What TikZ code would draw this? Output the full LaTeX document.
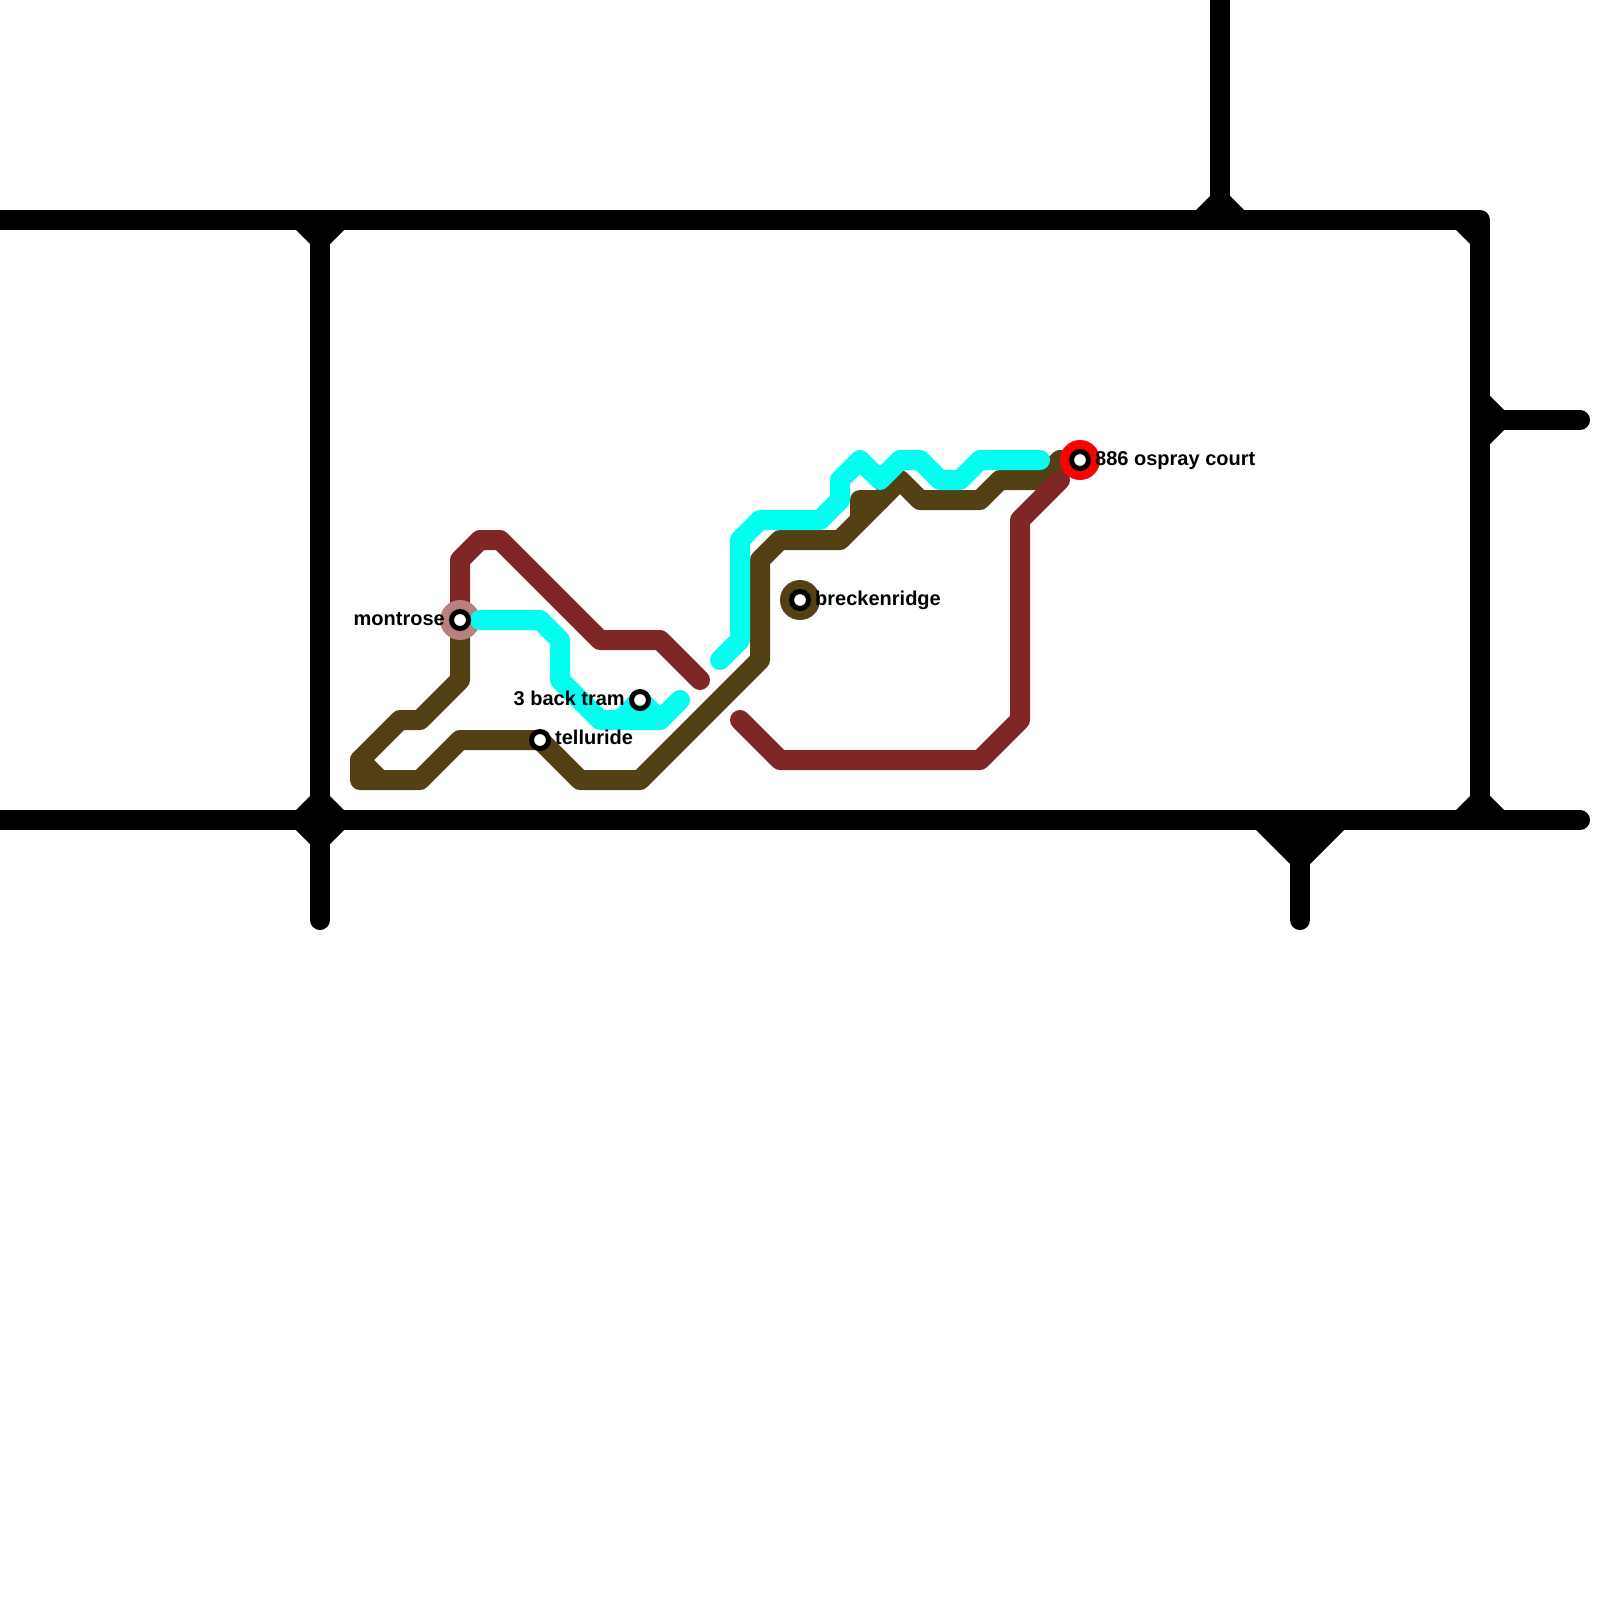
\documentclass[tikz,border=0pt]{standalone}
\usepackage{fontspec}
\setmainfont{Liberation Sans}
\definecolor{brownline}{HTML}{544015}
\definecolor{maroonline}{HTML}{7F2727}
\definecolor{cyanline}{HTML}{00FFEE}
\definecolor{montrosehalo}{HTML}{B8807F}
\begin{document}
\begin{tikzpicture}[
        x=1pt, y=-1pt,
        every node/.style={font=\fontsize{20}{24}\selectfont\bfseries},
        road/.style={draw=black, line width=20pt, line join=round, line cap=round},
        route/.style={line width=20pt, line join=round, line cap=round},
        wedge/.style={fill=black},
        halo/.style={circle, inner sep=0pt, minimum size=40pt},
        stop/.style={circle, draw=black, line width=5pt, fill=white, inner sep=0pt, minimum size=17pt},
        stoplabel/.style={inner sep=0pt}
    ]
    \useasboundingbox (0,0) rectangle (1600,1600);

    \coordinate (montrosept) at (460,620);
    \coordinate (backtrampt) at (640,700);
    \coordinate (telluridept) at (540,740);
    \coordinate (breckenridgept) at (800,600);
    \coordinate (ospraypt) at (1080,460);

    % roads
    \draw[road] (-20,220) -- (1480,220) -- (1480,820);
    \draw[road] (-20,820) -- (1580,820);
    \draw[road] (320,220) -- (320,920);
    \draw[road] (1220,-20) -- (1220,220);
    \draw[road] (1480,420) -- (1580,420);
    \draw[road] (1300,820) -- (1300,920);
    \fill[wedge] (296,230) -- (310,244) -- (330,244) -- (344,230) -- cycle;
    \fill[wedge] (320,786) -- (354,820) -- (320,854) -- (286,820) -- cycle;
    \fill[wedge] (1196,210) -- (1210,196) -- (1230,196) -- (1244,210) -- cycle;
    \fill[wedge] (1456,230) -- (1470,244) -- (1480,230) -- cycle;
    \fill[wedge] (1490,396) -- (1504,410) -- (1504,430) -- (1490,444) -- cycle;
    \fill[wedge] (1456,810) -- (1470,796) -- (1490,796) -- (1504,810) -- cycle;
    \fill[wedge] (1256,830) -- (1290,864) -- (1310,864) -- (1344,830) -- cycle;

    % routes
    \draw[route, brownline] (montrosept) -- (460,680) -- (420,720) -- (400,720) -- (360,760) -- (360,780) -- (420,780) -- (460,740) -- (telluridept) -- (580,780) -- (640,780) -- (760,660) -- (760,560) -- (780,540) -- (840,540) -- (900,480) -- (920,500) -- (980,500) -- (1000,480) -- (1040,480) -- (1060,460) -- (ospraypt);
    \draw[route, brownline] (360,760) -- (380,780);
    \draw[route, brownline] (860,520) -- (860,500) -- (880,500);
    \fill[brownline] (860,500) -- (880,500) -- (860,520) -- cycle;
    \draw[route, maroonline] (montrosept) -- (460,560) -- (480,540) -- (500,540) -- (600,640) -- (660,640) -- (700,680);
    \draw[route, maroonline] (740,720) -- (780,760) -- (980,760) -- (1020,720) -- (1020,520) -- (1060,480);

    \node[halo, fill=montrosehalo] (montrosehalo) at (montrosept) {};
    \node[halo, fill=brownline] (breckenridgehalo) at (breckenridgept) {};
    \node[halo, fill=red] (osprayhalo) at (ospraypt) {};

    \draw[route, cyanline] (480,620) -- (540,620) -- (560,640) -- (560,680) -- (600,720) -- (660,720) -- (680,700);
    \draw[route, cyanline] (620,720) -- (backtrampt) -- (660,720);
    \draw[route, cyanline] (720,660) -- (740,640) -- (740,540) -- (760,520) -- (820,520) -- (840,500) -- (840,480) -- (860,460) -- (880,480) -- (900,460) -- (920,460) -- (940,480) -- (960,480) -- (980,460) -- (1040,460);

    % stations
    \node[stop] (montrose) at (montrosept) {};
    \node[stop] (backtram) at (backtrampt) {};
    \node[stop] (telluride) at (telluridept) {};
    \node[stop] (breckenridge) at (breckenridgept) {};
    \node[stop] (ospray) at (ospraypt) {};

    \node[stoplabel, anchor=base east] (montroselabel) at (445,625) {montrose};
    \node[stoplabel, anchor=base east] (backtramlabel) at (625,705) {3 back tram};
    \node[stoplabel, anchor=base west] (telluridelabel) at (555,744.5) {telluride};
    \node[stoplabel, anchor=base west] (breckenridgelabel) at (815,605) {breckenridge};
    \node[stoplabel, anchor=base west] (ospraylabel) at (1095,465) {886 ospray court};
\end{tikzpicture}
\end{document}
